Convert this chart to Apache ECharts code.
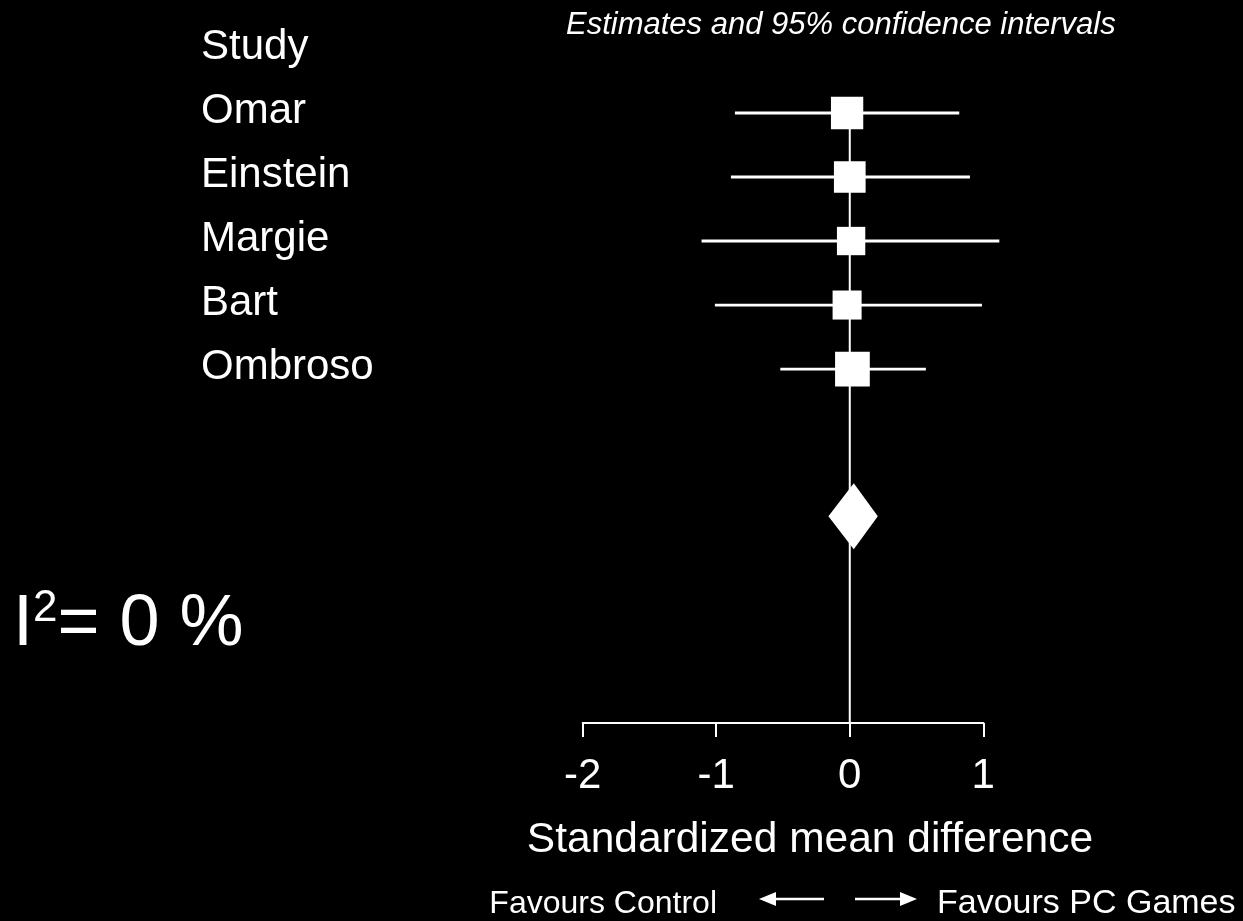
<!DOCTYPE html>
<html><head><meta charset="utf-8">
<script src="https://cdn.jsdelivr.net/npm/echarts@6/dist/echarts.min.js"></script>
<style>html,body{margin:0;padding:0;background:#000;}#c{width:1243px;height:921px;}</style>
</head><body><div id="c"></div>
<script>
// ---- data ----
const header = 'Study';
const studies = ['Omar', 'Einstein', 'Margie', 'Bart', 'Ombroso'];
const estimates = [-0.02, 0.00, 0.01, -0.02, 0.02];
const lower = [-0.86, -0.89, -1.11, -1.01, -0.52];
const upper = [0.82, 0.90, 1.12, 0.99, 0.57];
const weights = [21.3, 20.5, 16.4, 17.2, 24.6];   // % weight (box area)
const pooled = { est: 0.03, lo: -0.16, hi: 0.21 };
const xTicks = [-2, -1, 0, 1];
const i2Value = 0;
const titleText = 'Estimates and 95% confidence intervals';
const xAxisTitle = 'Standardized mean difference';
const favLeft = 'Favours Control';
const favRight = 'Favours PC Games';

// ---- layout helpers (rows) ----
const pooledRow = studies.length + 2.3;
const axisRow = 10.53;
const FONT = '"Liberation Sans", Arial, Helvetica, sans-serif';

const chart = echarts.init(document.getElementById('c'));

const ciData = studies.map((s, i) => [i + 1, lower[i], upper[i], estimates[i], weights[i]]);
const labelData = [header].concat(studies).map((s, i) => [i, s]);

chart.setOption({
  backgroundColor: '#000',
  animation: false,
  grid: { left: 582.7, right: 259.7, top: 49, bottom: 198 },
  xAxis: {
    type: 'value', position: 'bottom',
    min: xTicks[0], max: xTicks[xTicks.length - 1], interval: 1,
    splitLine: { show: false },
    axisLine: { show: true, onZero: false, lineStyle: { color: '#fff', width: 2 } },
    axisTick: { show: true, inside: false, length: 14, lineStyle: { color: '#fff', width: 2 } },
    axisLabel: { color: '#fff', fontSize: 42, fontFamily: FONT, margin: 32 }
  },
  yAxis: { type: 'value', min: 0, max: axisRow, inverse: true, show: false },
  graphic: [
    { type: 'text', left: 566, top: 10,
      style: { text: titleText, fill: '#fff', font: 'italic 31px ' + FONT } },
    { type: 'text', x: 810, y: 840,
      style: { text: xAxisTitle, fill: '#fff', font: '42.5px ' + FONT, align: 'center', verticalAlign: 'middle' } },
    { type: 'text', x: 13, y: 625,
      style: { rich: {
          a: { fontSize: 72, fontFamily: FONT, fill: '#fff', lineHeight: 76 },
          b: { fontSize: 44, fontFamily: FONT, fill: '#fff', verticalAlign: 'top', lineHeight: 76 }
        },
        text: '{a|I}{b|2}{a|= ' + i2Value + ' %}', verticalAlign: 'middle' } },
    { type: 'text', x: 717, y: 904,
      style: { text: favLeft, fill: '#fff', font: '32px ' + FONT, align: 'right', verticalAlign: 'middle' } },
    { type: 'text', x: 937, y: 904,
      style: { text: favRight, fill: '#fff', font: '34px ' + FONT, verticalAlign: 'middle' } },
    { type: 'line', shape: { x1: 772, y1: 899, x2: 824, y2: 899 }, style: { stroke: '#fff', lineWidth: 2.5 } },
    { type: 'polygon', shape: { points: [[759, 899], [776, 892], [776, 906]] }, style: { fill: '#fff' } },
    { type: 'line', shape: { x1: 855, y1: 899, x2: 903, y2: 899 }, style: { stroke: '#fff', lineWidth: 2.5 } },
    { type: 'polygon', shape: { points: [[917, 899], [900, 892], [900, 906]] }, style: { fill: '#fff' } }
  ],
  series: [
    {
      type: 'line', silent: true, symbol: 'none',
      data: [[0, 1], [0, axisRow]],
      lineStyle: { color: '#fff', width: 2 }, z: 1
    },
    {
      type: 'custom', clip: false, z: 3,
      data: ciData,
      renderItem: function (params, api) {
        const row = api.value(0);
        const a = api.coord([api.value(1), row]);
        const b = api.coord([api.value(2), row]);
        const c = api.coord([api.value(3), row]);
        const s = 7.0 * Math.sqrt(api.value(4));
        return { type: 'group', children: [
          { type: 'line', shape: { x1: a[0], y1: a[1], x2: b[0], y2: b[1] }, style: { stroke: '#fff', lineWidth: 2.8 } },
          { type: 'rect', shape: { x: c[0] - s / 2, y: c[1] - s / 2, width: s, height: s }, style: { fill: '#fff' } }
        ] };
      }
    },
    {
      type: 'custom', clip: false, z: 3,
      data: [[pooledRow, pooled.lo, pooled.hi, pooled.est]],
      renderItem: function (params, api) {
        const row = api.value(0);
        const l = api.coord([api.value(1), row]);
        const r = api.coord([api.value(2), row]);
        const m = api.coord([api.value(3), row]);
        const h = 33;
        return { type: 'polygon', shape: { points: [[l[0], l[1]], [m[0], m[1] - h], [r[0], r[1]], [m[0], m[1] + h]] }, style: { fill: '#fff' } };
      }
    },
    {
      type: 'custom', clip: false, z: 3,
      data: labelData,
      renderItem: function (params, api) {
        const p = api.coord([0, api.value(0)]);
        return { type: 'text', x: 201, y: p[1] - 2,
          style: { text: labelData[params.dataIndex][1], fill: '#fff', font: '42px ' + FONT, align: 'left', verticalAlign: 'middle' } };
      }
    }
  ]
});
</script>
</body></html>
